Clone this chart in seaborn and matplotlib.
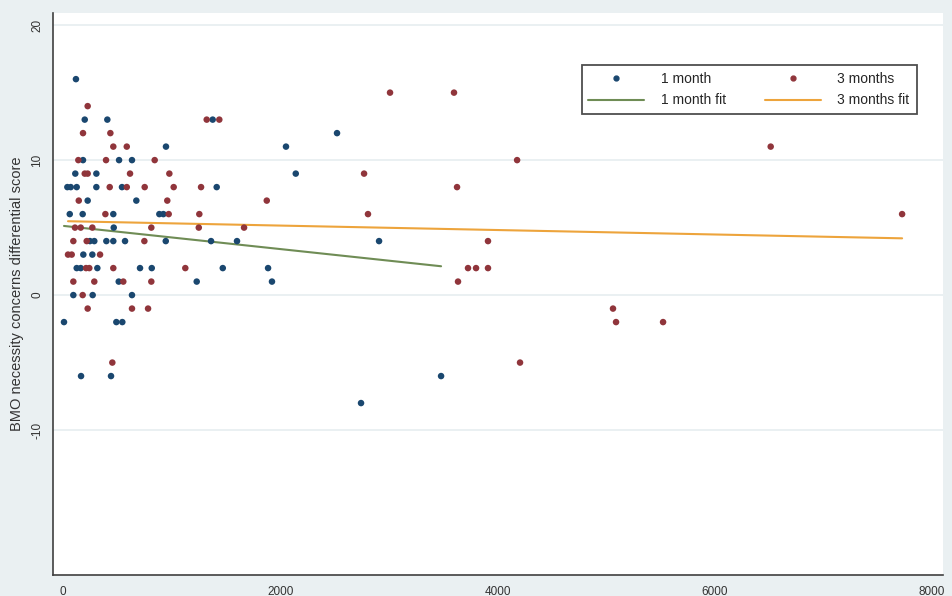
import numpy as np
import pandas as pd
import matplotlib
matplotlib.use('Agg')
import matplotlib.pyplot as plt
import seaborn as sns
from matplotlib.lines import Line2D

# 1 month group (x = days?, y = differential score)
m1_x = [119, 200, 408, 1378, 2523, 948, 2053, 184, 516, 635, 113, 307, 2143,
        40, 71, 126, 307, 543, 1415, 227, 675, 62, 181, 463, 887, 924, 467,
        248, 288, 399, 463, 571, 946, 1363, 1602, 2910, 187, 270, 126, 163,
        316, 709, 817, 1471, 1888, 513, 1231, 1924, 95, 273, 635, 9, 491, 546,
        166, 442, 3481, 2744]
m1_y = [16, 13, 13, 13, 12, 11, 11, 10, 10, 10, 9, 9, 9,
        8, 8, 8, 8, 8, 8, 7, 7, 6, 6, 6, 6, 6, 5,
        4, 4, 4, 4, 4, 4, 4, 4, 4, 3, 3, 2, 2,
        2, 2, 2, 2, 2, 1, 1, 1, 0, 0, 0, -2, -2, -2,
        -6, -6, -6, -8]

# 3 months group
m3_x = [3011, 3600, 227, 1323, 1439, 184, 436, 463, 587, 6516, 141, 396, 844,
        4181, 200, 227, 617, 979, 2772, 430, 587, 752, 1019, 1271, 3628, 145,
        960, 1876, 390, 973, 1255, 2808, 7726, 110, 163, 270, 813, 1250, 1667,
        95, 218, 749, 3913, 46, 80, 341, 212, 242, 463, 1126, 3729, 3803, 3913,
        95, 288, 555, 813, 3637, 181, 227, 635, 783, 5064, 5092, 5525, 454, 4208]
m3_y = [15, 15, 14, 13, 13, 12, 12, 11, 11, 11, 10, 10, 10,
        10, 9, 9, 9, 9, 9, 8, 8, 8, 8, 8, 8, 7,
        7, 7, 6, 6, 6, 6, 6, 5, 5, 5, 5, 5, 5,
        4, 4, 4, 4, 3, 3, 3, 2, 2, 2, 2, 2, 2, 2,
        1, 1, 1, 1, 1, 0, -1, -1, -1, -1, -2, -2, -5, -5]

# linear fit: (intercept, slope)
fit_1m = (5.13, -0.00086)
fit_3m = (5.48, -0.000165)

navy = '#1a476f'
maroon = '#90353b'
green = '#6f8c55'
orange = '#eda43c'
bg = '#eaf0f2'

sns.set_style('white')
plt.rcParams['font.family'] = ['Liberation Sans', 'DejaVu Sans']

df = pd.DataFrame({
    'x': m1_x + m3_x,
    'y': m1_y + m3_y,
    'grupa': ['1 month'] * len(m1_x) + ['3 months'] * len(m3_x),
})

fig = plt.figure(figsize=(9.52, 5.96), dpi=100, facecolor=bg)
ax = fig.add_axes([0.0557, 0.0352, 0.9349, 0.9430])
ax.set_facecolor('white')

for yy in [-10, 0, 10, 20]:
    ax.axhline(yy, color='#e6eef0', lw=1.2, zorder=0)

sns.scatterplot(data=df, x='x', y='y', hue='grupa',
                palette={'1 month': navy, '3 months': maroon},
                s=22, edgecolor='none', legend=False, ax=ax, zorder=3)

# fit lines from min to max of each group
for xs, fit, col in [(m1_x, fit_1m, green), (m3_x, fit_3m, orange)]:
    lx = np.array([min(xs), max(xs)])
    ly = fit[0] + fit[1] * lx
    sns.lineplot(x=lx, y=ly, color=col, lw=1.5, ax=ax, zorder=2)

ax.set_xlim(-92, 8103)
ax.set_ylim(-20.74, 20.9)
ax.set_xticks([0, 2000, 4000, 6000, 8000])
ax.set_yticks([-10, 0, 10, 20])
ax.set_yticklabels(['-10', '0', '10', '20'], rotation=90, va='center')
ax.tick_params(axis='both', direction='out', length=5, width=1.1,
               color='#404040', labelsize=8.5, labelcolor='#333333', pad=2)
ax.tick_params(axis='x', pad=3)
for side in ['top', 'right']:
    ax.spines[side].set_visible(False)
for side in ['left', 'bottom']:
    ax.spines[side].set_color('#404040')
    ax.spines[side].set_linewidth(1.2)
ax.set_xlabel('')
ax.set_ylabel('BMO necessity concerns differential score', fontsize=10.5,
              color='#333333')
ax.yaxis.set_label_coords(-0.033, 0.5)

handles = [
    Line2D([], [], ls='none', marker='o', ms=3.5, color=navy),
    Line2D([], [], color=green, lw=1.5),
    Line2D([], [], ls='none', marker='o', ms=3.5, color=maroon),
    Line2D([], [], color=orange, lw=1.5),
]
labels = ['1 month', '1 month fit', '3 months', '3 months fit']
leg = ax.legend(handles, labels, ncol=2, loc='upper left',
                bbox_to_anchor=(0.586, 0.92, 0.392, 0.0), mode='expand',
                fontsize=10, frameon=True, fancybox=False, handlelength=4,
                borderpad=0.5, labelspacing=0.55, columnspacing=1.2,
                handletextpad=1.2)
leg.get_frame().set_edgecolor('#222222')
leg.get_frame().set_linewidth(1.3)

fig.savefig('out.png', dpi=100, facecolor=bg)
